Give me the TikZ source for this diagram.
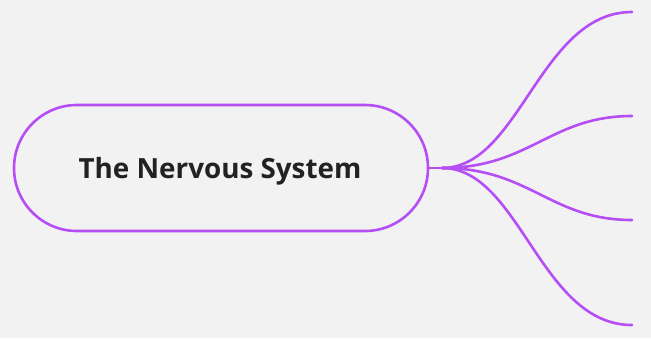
\documentclass[tikz,border=0pt]{standalone}
\usepackage{fontspec}
\setmainfont{Open Sans}
\definecolor{bg}{RGB}{242,242,242}
\definecolor{brpurple}{RGB}{182,78,246}
\definecolor{txt}{RGB}{34,34,34}
\begin{document}
\begin{tikzpicture}[x=1pt,y=-1pt,
  pill/.style={draw=brpurple,line width=2.6pt,rounded corners=63pt,
    minimum width=414pt,minimum height=126pt,inner sep=0pt,
    font=\bfseries\fontsize{27.8}{32}\selectfont,text=txt},
  branch/.style={draw=brpurple,line width=2.6pt,line cap=round}]
\fill[bg] (0,0) rectangle (651,338);
\useasboundingbox (0,0) rectangle (651,338);
\node[pill] (root) at (221,168) {};
\node[font=\bfseries\fontsize{27.8}{32}\selectfont,text=txt,inner sep=0pt] (title) at (220,171) {The Nervous System};
\coordinate (hub) at (442,168);
\coordinate (e1) at (632,12);
\coordinate (e2) at (632,116);
\coordinate (e3) at (632,220);
\coordinate (e4) at (632,325);
\draw[branch] (root.east) -- (hub);
\draw[branch] (hub) .. controls (520,168) and (540,12) .. (e1);
\draw[branch] (hub) .. controls (530,168) and (550,116) .. (e2);
\draw[branch] (hub) .. controls (530,168) and (550,220) .. (e3);
\draw[branch] (hub) .. controls (520,168) and (540,325) .. (e4);
\end{tikzpicture}
\end{document}
